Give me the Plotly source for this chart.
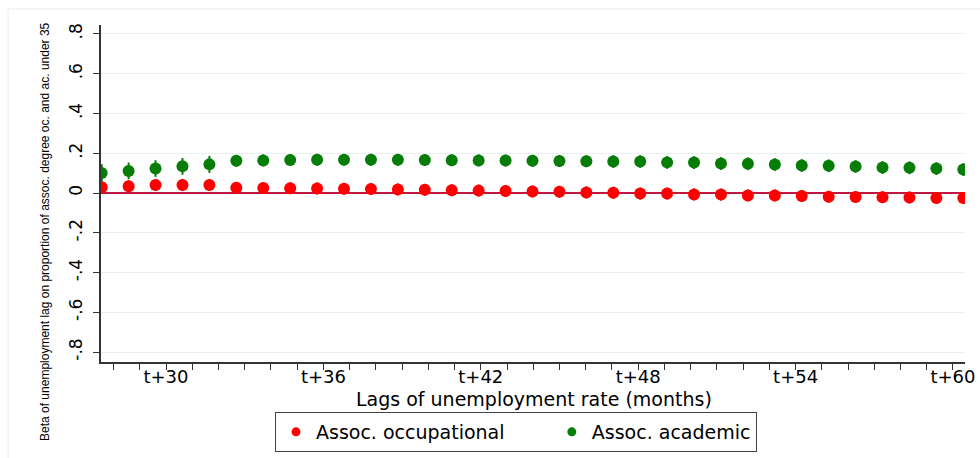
import plotly.graph_objects as go

# Data
lags = list(range(28, 61))
occ_beta = [0.029, 0.034, 0.040, 0.040, 0.040, 0.026, 0.025, 0.024, 0.023, 0.021,
            0.020, 0.018, 0.016, 0.014, 0.012, 0.010, 0.008, 0.006, 0.003, 0.001,
            -0.003, -0.003, -0.007, -0.008, -0.012, -0.012, -0.015, -0.019, -0.020,
            -0.021, -0.023, -0.025, -0.025]
occ_ci = [0.030] * 33
acad_beta = [0.101, 0.111, 0.123, 0.134, 0.144, 0.162, 0.164, 0.166, 0.167, 0.167,
             0.167, 0.167, 0.166, 0.165, 0.164, 0.163, 0.162, 0.161, 0.160, 0.158,
             0.158, 0.154, 0.153, 0.148, 0.147, 0.143, 0.138, 0.137, 0.133, 0.128,
             0.127, 0.123, 0.118]
acad_ci = [0.044, 0.042, 0.042, 0.042, 0.043, 0.030, 0.030, 0.030, 0.030, 0.030,
           0.030, 0.030, 0.030, 0.030, 0.030, 0.030, 0.030, 0.030, 0.030, 0.032,
           0.032, 0.032, 0.032, 0.032, 0.032, 0.032, 0.032, 0.032, 0.032, 0.032,
           0.032, 0.032, 0.032]

tick_months = list(range(28, 61))
tick_text = [f"t+{m}" if m % 6 == 0 else "" for m in tick_months]
ytick_vals = [0.8, 0.6, 0.4, 0.2, 0, -0.2, -0.4, -0.6, -0.8]
ytick_text = [".8", ".6", ".4", ".2", "0", "-.2", "-.4", "-.6", "-.8"]

RED = "#ff0000"
GREEN = "#067d06"
FONT = "DejaVu Sans, Liberation Sans, sans-serif"
NARROW = "Liberation Sans, Arial, sans-serif"

# the labelled month axis is slightly offset/scaled relative to the lag points
tick_pos = [30.388 + (m - 30) * 0.9743 for m in tick_months]

W, H = 980, 458
L, R, T, B = 101, 965, 25, 362
def px(x):
    return (x - L) / (R - L)
def py(y):
    return (B - y) / (B - T)

fig = go.Figure()
fig.add_trace(go.Scatter(
    x=lags, y=occ_beta, mode="markers", name="Assoc. occupational", showlegend=False,
    marker=dict(color=RED, size=12, line=dict(width=0)),
    error_y=dict(type="data", array=occ_ci, color=RED, thickness=2, width=0),
))
fig.add_trace(go.Scatter(
    x=lags, y=acad_beta, mode="markers", name="Assoc. academic", showlegend=False,
    marker=dict(color=GREEN, size=12, line=dict(width=0)),
    error_y=dict(type="data", array=acad_ci, color=GREEN, thickness=2, width=0),
))
# legend entries (smaller symbols, as in the reference key)
fig.add_trace(go.Scatter(x=[None], y=[None], mode="markers",
                         name="Assoc. occupational" + "\u00a0" * 7,
                         marker=dict(color=RED, size=9)))
fig.add_trace(go.Scatter(x=[None], y=[None], mode="markers", name="Assoc. academic",
                         marker=dict(color=GREEN, size=9)))

fig.update_layout(
    width=W, height=H,
    margin=dict(l=L, r=W - R, t=T, b=H - B, autoexpand=False),
    paper_bgcolor="white", plot_bgcolor="white",
    font=dict(family=FONT, color="black", size=18),
    showlegend=True,
    legend=dict(
        orientation="h", x=px(516), xanchor="center", y=py(412), yanchor="top",
        bordercolor="#444", borderwidth=1, font=dict(size=19),
        itemsizing="trace",
    ),
    xaxis=dict(
        range=[27.974, 60.063], showgrid=False, zeroline=False, automargin=False,
        showline=True, linecolor="#333", linewidth=1.5,
        tickmode="array", tickvals=tick_pos, ticktext=tick_text,
        ticks="outside", ticklen=6, tickcolor="#333", tickwidth=1.2,
        tickfont=dict(size=18), ticklabelstandoff=-8,
    ),
    yaxis=dict(
        range=[-0.85, 0.845], showgrid=True, gridcolor="#e9f0f2", gridwidth=1,
        zeroline=True, zerolinecolor="#c01840", zerolinewidth=1.5, automargin=False,
        showline=True, linecolor="#333", linewidth=1.5,
        tickmode="array", tickvals=ytick_vals, ticktext=ytick_text,
        ticks="outside", ticklen=6, tickcolor="#333", tickwidth=1.2,
        tickangle=-90, tickfont=dict(size=17), ticklabelstandoff=4,
    ),
    shapes=[dict(type="rect", xref="paper", yref="paper",
                 x0=px(8), x1=px(990), y0=py(470), y1=py(9),
                 line=dict(color="#ececec", width=1), fillcolor="rgba(0,0,0,0)", layer="below")],
    annotations=[
        dict(text="Lags of unemployment rate (months)",
             xref="paper", yref="paper", x=px(534), y=py(399),
             showarrow=False, font=dict(size=19, family=FONT),
             xanchor="center", yanchor="middle"),
        dict(text="Beta of unemployment lag on proportion of assoc. degree oc. and ac. under 35",
             xref="paper", yref="paper", x=px(45), y=py(232), textangle=-90,
             showarrow=False, font=dict(size=12, family=NARROW),
             xanchor="center", yanchor="middle"),
    ],
)

fig.write_html("out.html")
